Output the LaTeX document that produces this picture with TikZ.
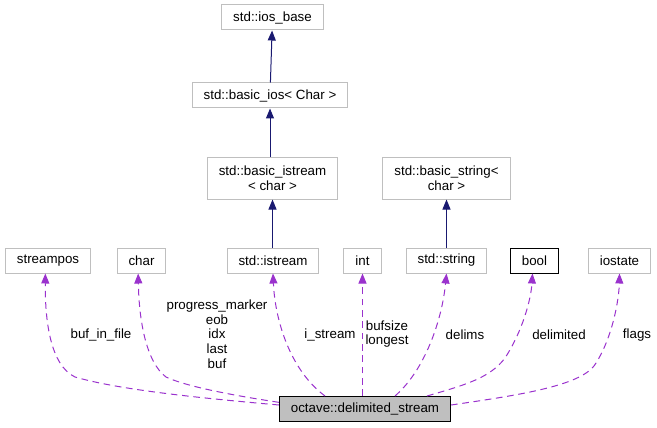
\documentclass[tikz,border=0pt]{standalone}
\usepackage{fontspec}
\setmainfont{Liberation Sans}
\usepackage{xcolor}
\usetikzlibrary{arrows.meta,positioning}
\definecolor{edgepurple}{HTML}{9A32CD}
\definecolor{edgenavy}{HTML}{191970}
\definecolor{boxgray}{HTML}{BFBFBF}

\begin{document}
\begin{tikzpicture}[x=0.75pt,y=-0.75pt,
  font=\fontsize{10}{11}\selectfont,
  cls/.style={rectangle, draw=boxgray, line width=0.75pt, inner xsep=8.6pt, inner ysep=0pt, minimum height=18.75pt, align=center},
  main/.style={cls, draw=black, fill=boxgray},
  inherit/.style={edgenavy, line width=0.75pt, -{Triangle[length=7.5pt,width=6pt]}},
  member/.style={edgepurple, line width=0.75pt, dash pattern=on 5pt off 3.5pt, -{Triangle[length=7.5pt,width=6pt]}},
  lbl/.style={align=center, inner sep=0pt}
]
\useasboundingbox (0,0) rectangle (657,428);

% inheritance chain
\node[cls] (iosbase) at (272.5,17.5) {std::ios\_base};
\node[cls] (basicios) at (270,95.5) {std::basic\_ios< Char >};
\node[cls, minimum height=31.5pt] (basicistream) at (272.5,178) {std::basic\_istream\\< char >};
\node[cls, minimum height=31.5pt] (basicstring) at (446.5,178) {std::basic\_string<\\char >};

% member types
\node[cls] (streampos) at (48,260.5) {streampos};
\node[cls] (char) at (141.5,260.5) {char};
\node[cls] (istream) at (273,260.5) {std::istream};
\node[cls] (int) at (362.5,260.5) {int};
\node[cls] (string) at (446.5,260.5) {std::string};
\node[cls, draw=black] (bool) at (534.5,260.5) {bool};
\node[cls] (iostate) at (619.5,260.5) {iostate};

\node[main] (octave) at (365,409) {octave::delimited\_stream};

\draw[inherit] (basicios) -- (iosbase);
\draw[inherit] (basicistream.north -| basicios) -- (basicios);
\draw[inherit] (istream.north -| basicistream) -- (basicistream);
\draw[inherit] (string) -- (basicstring);

% members
\draw[member] ([yshift=3pt]octave.west) .. controls (200,398) and (120,390) .. (75,377) .. controls (50,365) and (45,320) .. ([xshift=-2pt]streampos.south);
\draw[member] ([yshift=5pt]octave.west) .. controls (230,395) and (185,386) .. (166,377) .. controls (146,362) and (139,320) .. ([xshift=-2.5pt]char.south);
\draw[member] (325,396) .. controls (290,370) and (275,320) .. (istream.south);
\draw[member] (octave.north -| int) -- (int.south);
\draw[member] (395,396) .. controls (425,370) and (442,320) .. (string.south);
\draw[member] (427,396) .. controls (465,385) and (490,378) .. (505,358) .. controls (522,332) and (531,300) .. ([xshift=-1.5pt]bool.south);
\draw[member] ([yshift=3pt]octave.east) .. controls (520,395) and (578,386) .. (594,366) .. controls (612,340) and (619,300) .. (iostate.south);

\node[lbl] (lstreampos) at (101,335) {buf\_in\_file};
\node[lbl] (lchar) at (217,334) {progress\_marker\\eob\\idx\\last\\buf};
\node[lbl] (listream) at (330,335) {i\_stream};
\node[lbl] (lint) at (387,334) {bufsize\\longest};
\node[lbl] (lstring) at (465,335) {delims};
\node[lbl] (lbool) at (559,335) {delimited};
\node[lbl] (liostate) at (637,335) {flags};
\end{tikzpicture}
\end{document}
